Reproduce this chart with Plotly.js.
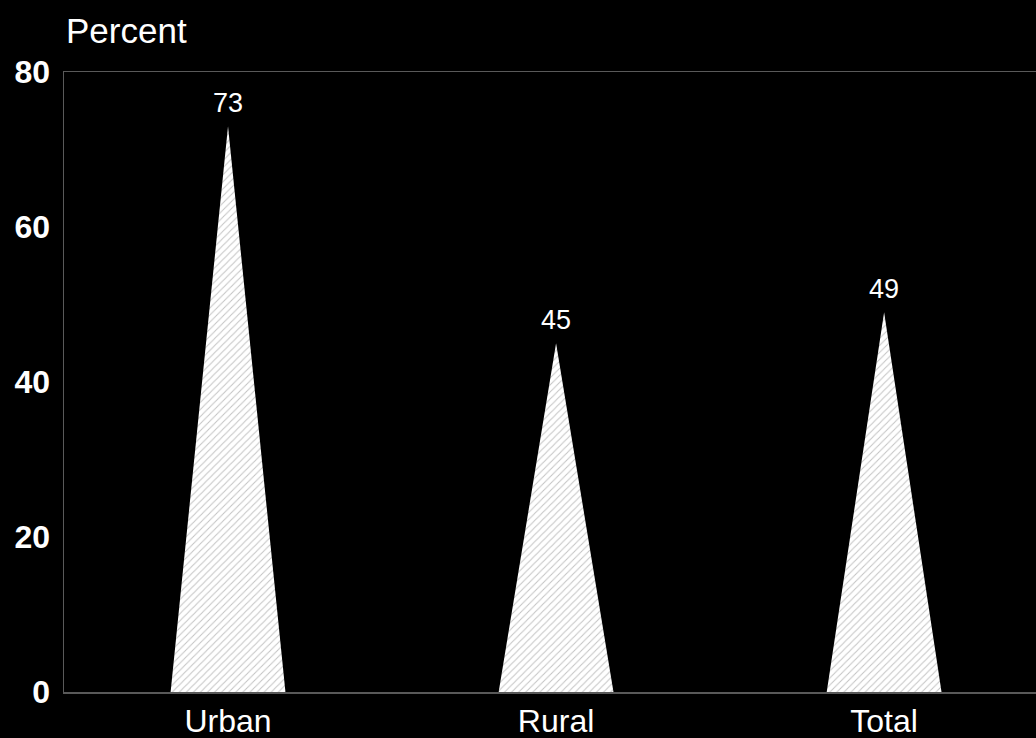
<!DOCTYPE html>
<html>
<head>
<meta charset="utf-8">
<script src="https://cdn.plot.ly/plotly-3.0.1.min.js"></script>
<style>
  html, body { margin: 0; padding: 0; background: #000; }
  #chart { width: 1036px; height: 738px; }
</style>
</head>
<body>
<div id="chart"></div>
<script>
// Share of respondents, by area
const categories = ["Urban", "Rural", "Total"];
const percents = [73, 45, 49];
const yTicks = [0, 20, 40, 60, 80];

// Half of each pyramid's base, in category units
const halfBase = 0.175;

const traces = categories.map((name, i) => ({
  type: "scatter",
  mode: "lines",
  x: [i - halfBase, i, i + halfBase, i - halfBase],
  y: [0, percents[i], 0, 0],
  fill: "toself",
  fillcolor: "#ffffff",
  fillpattern: {
    shape: "/",
    fgcolor: "#c4c4c4",
    bgcolor: "#ffffff",
    size: 5,
    solidity: 0.2
  },
  line: { width: 0, color: "#ffffff" },
  hoverinfo: "skip",
  showlegend: false
}));

const valueLabels = categories.map((name, i) => ({
  x: i,
  y: percents[i],
  xref: "x",
  yref: "y",
  text: String(percents[i]),
  showarrow: false,
  yanchor: "bottom",
  yshift: 6,
  font: { family: "Liberation Sans, Arial, sans-serif", size: 27, color: "#ffffff" }
}));

const layout = {
  width: 1036,
  height: 738,
  paper_bgcolor: "#000000",
  plot_bgcolor: "#000000",
  margin: { l: 64, r: 0, t: 72, b: 46, pad: 0 },
  showlegend: false,
  xaxis: {
    type: "linear",
    range: [-0.5, 2.463],
    tickmode: "array",
    tickvals: categories.map((_, i) => i),
    ticktext: categories,
    ticks: "",
    ticklabelstandoff: 0,
    showgrid: false,
    zeroline: false,
    showline: true,
    mirror: true,
    linecolor: "#595959",
    linewidth: 1.5,
    tickfont: { family: "Liberation Sans, Arial, sans-serif", size: 32, color: "#ffffff" },
    fixedrange: true
  },
  yaxis: {
    range: [0, 80],
    tickmode: "array",
    tickvals: yTicks,
    ticktext: yTicks.map(String),
    ticks: "",
    ticklabelstandoff: 6,
    showgrid: false,
    zeroline: false,
    showline: true,
    linecolor: "#595959",
    linewidth: 1.5,
    tickfont: { family: "Liberation Sans, Arial, sans-serif", size: 32, color: "#ffffff", weight: "bold" },
    fixedrange: true
  },
  annotations: [
    ...valueLabels,
    {
      x: 0,
      y: 1,
      xref: "paper",
      yref: "paper",
      xanchor: "left",
      yanchor: "bottom",
      yshift: 20,
      text: "Percent",
      showarrow: false,
      font: { family: "Liberation Sans, Arial, sans-serif", size: 35, color: "#ffffff" }
    }
  ]
};

Plotly.newPlot("chart", traces, layout, { displayModeBar: false, staticPlot: true });
</script>
</body>
</html>
